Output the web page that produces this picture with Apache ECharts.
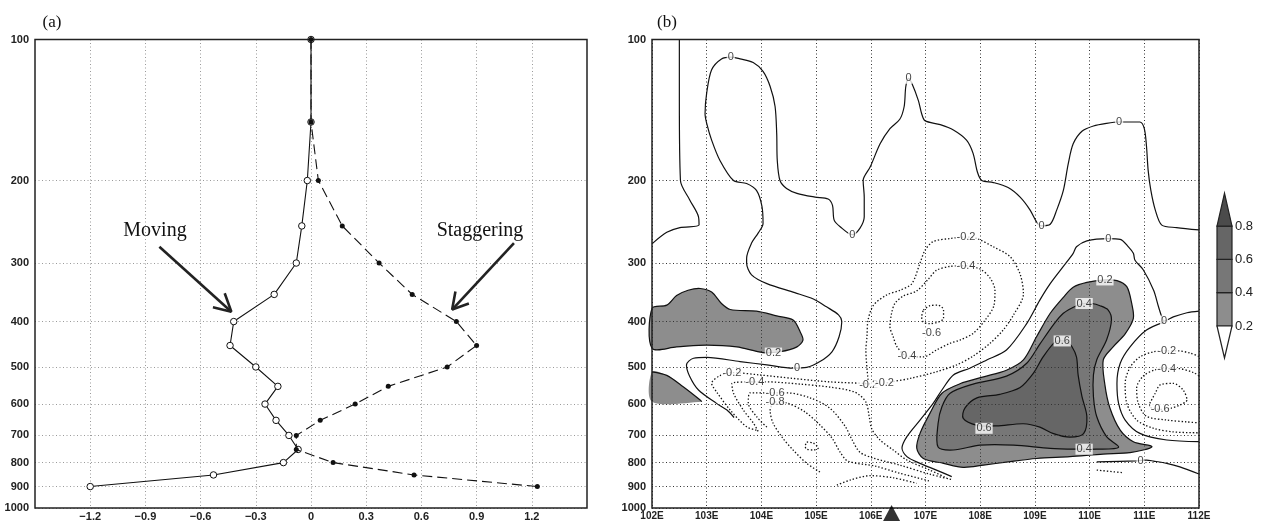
<!DOCTYPE html>
<html><head><meta charset="utf-8">
<script src="https://cdn.jsdelivr.net/npm/echarts@6/dist/echarts.min.js"></script>
<style>html,body{margin:0;padding:0;background:#fff}#c{width:1262px;height:521px}</style>
</head><body><div id="c"></div>
<script>
// ---------------- DATA : panel (a) ----------------
const pressureLevels = [100,150,200,250,300,350,400,450,500,550,600,650,700,750,800,850,900];
const movingVals     = [0,0,-0.02,-0.05,-0.08,-0.20,-0.42,-0.44,-0.30,-0.18,-0.25,-0.19,-0.12,-0.07,-0.15,-0.53,-1.20];
const staggeringVals = [0,0,0.04,0.17,0.37,0.55,0.79,0.90,0.74,0.42,0.24,0.05,-0.08,-0.08,0.12,0.56,1.23];
const xTicksA = [-1.2,-0.9,-0.6,-0.3,0,0.3,0.6,0.9,1.2];
const pressureTicks = [100,200,300,400,500,600,700,800,900,1000];
const lonTicks = [102,103,104,105,106,107,108,109,110,111,112];
// annotation arrows (value, hPa)
const movingArrowShaft = [[-0.824,277],[-0.433,381]];
const movingArrowHead  = [[-0.533,373],[-0.433,381],[-0.469,348]];
const staggerArrowShaft = [[1.103,272],[0.767,377]];
const staggerArrowHead  = [[0.858,366],[0.767,377],[0.785,345]];

// ---------------- DATA : panel (b) contours [lon, hPa] ----------------
const zeroA = [[102.50,100],[102.50,135],[102.52,200],[102.69,220],[102.85,239],[102.86,249],[102.51,252],[102.27,258],[102.0,273]];
const zeroB = [[103.50,641],[103.37,618],[103.18,598],[102.85,560],[102.69,524],[102.63,495],[102.76,479],[103.00,477],[103.61,487],[104.10,495],[104.58,503],[104.83,501],[105.07,487],[105.29,464],[105.42,431],[105.47,400],[105.41,387],[105.19,372],[104.95,358],[104.61,347],[104.10,332],[103.82,318],[103.73,300],[103.73,293],[103.82,272],[103.94,259],[104.03,247],[104.01,227],[103.91,210],[103.73,203],[103.49,200],[103.24,181],[103.09,164],[103.00,151],[102.97,144],[103.00,130],[103.09,116],[103.27,110],[103.44,109],[103.61,110],[103.85,112],[104.03,117],[104.16,126],[104.25,139],[104.28,159],[104.29,181],[104.34,200],[104.46,208],[104.65,213],[104.98,217],[105.22,219],[105.30,226],[105.33,243],[105.44,251],[105.66,261],[105.80,253],[105.88,239],[105.88,217],[105.86,200],[105.99,187],[106.17,167],[106.35,155],[106.53,148],[106.61,139],[106.64,126],[106.69,121],[106.75,124],[106.87,135],[106.93,144],[106.99,149],[107.27,152],[107.51,156],[107.75,164],[107.87,175],[107.95,192],[108.03,200],[108.24,202],[108.51,207],[108.73,217],[108.91,231],[109.03,245],[109.12,250],[109.28,248],[109.40,231],[109.52,210],[109.61,184],[109.70,167],[109.86,157],[110.07,153],[110.31,151],[110.54,150],[110.92,150],[111.00,155],[111.04,169],[111.07,190],[111.12,210],[111.20,231],[111.32,249],[111.59,252],[112.0,255]];
const zeroD1 = [[107.48,857],[107.20,830],[106.90,803],[106.66,777],[106.57,745],[106.66,704],[106.90,649],[107.14,598],[107.30,560],[107.51,520],[107.81,503],[108.12,483],[108.48,460],[108.85,404],[109.09,360],[109.28,332],[109.52,305],[109.70,286],[109.76,277],[109.95,269],[110.34,266],[110.56,267],[110.71,277],[110.80,286],[110.83,296],[110.98,310],[111.17,343],[111.26,372],[111.32,391],[111.36,399],[111.53,391],[111.78,383],[112.0,380]];
const zeroD2 = [[111.36,401],[111.04,417],[110.74,453],[110.56,491],[110.50,542],[110.53,598],[110.65,649],[110.92,693],[111.41,716],[112.0,722]];
const zeroE = [[110.13,797],[110.86,793],[111.04,790],[111.17,794],[111.41,803],[111.65,817],[112.0,846]];
const fill02West = [[102.0,375],[102.27,369],[102.45,352],[102.66,343],[102.88,340],[103.09,346],[103.27,366],[103.43,377],[103.91,380],[104.28,389],[104.58,397],[104.71,421],[104.76,438],[104.65,453],[104.34,464],[104.03,466],[103.55,453],[103.00,449],[102.45,453],[102.0,456]];
const edge02West2 = [[102.0,512],[102.27,521],[102.57,551],[102.88,588],[102.91,593]];
const fill02East = [[110.28,326],[109.95,330],[109.70,338],[109.52,355],[109.28,384],[109.03,431],[108.79,483],[108.48,508],[108.06,525],[107.63,543],[107.30,569],[107.08,628],[106.90,693],[106.84,745],[106.96,784],[107.33,803],[107.69,819],[108.06,810],[108.51,797],[109.03,784],[109.64,777],[110.25,767],[110.74,762],[111.14,740],[110.80,722],[110.56,682],[110.37,611],[110.28,546],[110.25,483],[110.43,453],[110.65,425],[110.80,394],[110.77,366],[110.68,337],[110.50,327]];
const fill04East = [[109.90,366],[109.76,370],[109.52,384],[109.34,406],[109.09,447],[108.85,491],[108.48,523],[107.87,544],[107.45,569],[107.30,608],[107.23,660],[107.23,741],[107.51,752],[108.00,734],[108.61,734],[109.28,746],[109.76,749],[110.13,749],[110.53,742],[110.31,704],[110.13,638],[110.07,578],[110.07,520],[110.13,483],[110.31,438],[110.40,397],[110.34,378],[110.19,370],[110.04,366]];
const fill06East = [[109.50,440],[109.37,442],[109.15,476],[108.97,516],[108.73,553],[108.36,572],[107.94,582],[107.72,612],[107.69,644],[107.94,666],[108.30,668],[108.79,661],[109.09,672],[109.34,694],[109.64,706],[109.89,694],[109.95,638],[109.86,578],[109.79,520],[109.76,476],[109.67,451],[109.58,441]];
const neg02a = [[103.91,682],[103.73,671],[103.43,618],[103.18,565],[103.09,542],[103.24,522],[103.46,514],[103.97,520],[104.58,529],[105.25,538],[105.86,542],[106.02,544]];
const neg02b = [[105.95,533],[105.91,460],[105.93,431],[105.95,397],[106.05,369],[106.29,351],[106.53,343],[106.75,332],[106.90,300],[106.99,282],[107.14,270],[107.45,266],[107.74,264],[107.94,266],[108.24,277],[108.55,291],[108.73,317],[108.79,349],[108.61,387],[108.42,417],[108.18,445],[107.87,474],[107.57,495],[107.20,512],[106.72,529],[106.38,538],[106.26,542]];
const neg04top = [[107.74,304],[108.00,309],[108.18,323],[108.27,343],[108.25,370],[108.09,397],[107.87,424],[107.63,438],[107.45,445],[107.20,460],[106.96,476],[106.66,474],[106.48,453],[106.41,431],[106.35,410],[106.38,384],[106.44,366],[106.59,353],[106.84,344],[107.05,325],[107.20,311],[107.45,305],[107.74,304]];
const neg06top = [[106.96,378],[107.08,370],[107.23,369],[107.33,378],[107.33,394],[107.23,401],[107.08,404],[106.96,401],[106.93,391],[106.96,378]];
const neg04fan = [[103.94,686],[103.85,658],[103.67,618],[103.49,569],[103.46,542],[103.88,538],[104.10,538],[104.71,544],[105.25,552],[105.71,566],[105.91,594],[105.97,637],[106.02,679],[106.17,716],[106.41,752],[106.66,790],[107.08,830],[107.39,863]];
const neg06fan = [[104.10,672],[103.92,640],[103.76,596],[103.79,568],[104.25,568],[104.47,568],[104.89,582],[105.25,612],[105.53,669],[105.66,716],[105.80,760],[106.04,782],[106.53,810],[107.08,847],[107.50,871]];
const neg08fan = [[105.07,838],[104.83,803],[104.58,752],[104.39,709],[104.21,658],[104.16,618],[104.25,594],[104.47,597],[104.80,624],[105.07,665],[105.29,709],[105.44,760],[105.58,794],[106.08,814],[106.53,843],[107.08,876]];
const neg10loop = [[104.83,723],[104.95,727],[105.04,745],[104.95,752],[104.83,749],[104.80,738],[104.83,723]];
const negBottom = [[105.38,894],[105.62,872],[105.99,853],[106.41,862],[106.84,886]];
const neg02east = [[112.0,475],[111.84,467],[111.62,462],[111.41,462],[111.17,464],[110.92,476],[110.74,501],[110.65,542],[110.68,598],[110.86,649],[111.17,676],[111.53,688],[112.0,691]];
const neg04east = [[112.0,523],[111.90,514],[111.62,504],[111.41,504],[111.20,507],[110.98,523],[110.86,555],[110.89,598],[111.04,637],[111.41,649],[111.78,655],[112.0,658]];
const neg06east = [[111.10,598],[111.20,569],[111.29,546],[111.53,542],[111.71,560],[111.78,588],[111.65,603],[111.47,613],[111.29,616],[111.10,608],[111.10,598]];
const neg02bit = [[110.13,830],[110.62,841]];
const contourLabels = [
  [103.44,109,'0'],[105.66,261,'0'],[106.69,121,'0'],[109.12,250,'0'],[110.54,150,'0'],
  [110.34,266,'0'],[111.36,399,'0'],[104.65,503,'0'],[110.93,793,'0'],
  [104.22,467,'0.2'],[110.28,326,'0.2'],[109.90,366,'0.4'],[109.90,749,'0.4'],
  [109.50,440,'0.6'],[108.07,676,'0.6'],
  [107.74,264,'-0.2'],[103.46,514,'-0.2'],[105.96,547,'-0.2'],[106.25,540,'-0.2'],[111.41,462,'-0.2'],
  [107.74,304,'-0.4'],[106.66,474,'-0.4'],[103.88,538,'-0.4'],[111.41,504,'-0.4'],
  [107.11,423,'-0.6'],[104.25,567,'-0.6'],[111.29,616,'-0.6'],
  [104.25,594,'-0.8']
];
const stationLon = 106.38;
const shadeLevels = [0.2,0.4,0.6,0.8];
const shadeColors = ['#8d8d8d','#777777','#666666','#4b4b4b'];

// ---------------- BUILD ----------------
const FONT = '"Liberation Sans", Arial, sans-serif';
const chart = echarts.init(document.getElementById('c'), null, {renderer:'canvas'});

const fillPolys = [
  {pts: fill02West, color: shadeColors[0], stroke: true},
  {pts: edge02West2.concat([[102.0,593]]), color: shadeColors[0], stroke: false},
  {pts: fill02East, color: shadeColors[0], stroke: true},
  {pts: fill04East, color: shadeColors[1], stroke: true},
  {pts: fill06East, color: shadeColors[2], stroke: true}
];
const solidLines = [zeroA, zeroB, zeroD1, zeroD2, zeroE, edge02West2];
const dottedLines = [neg02a, neg02b, neg04top, neg06top, neg04fan, neg06fan, neg08fan, neg10loop, negBottom, neg02east, neg04east, neg06east, neg02bit];

function fmtA(v){ if (Math.abs(v) < 1e-9) return '0'; return (v<0?'\u2212':'') + Math.abs(v).toFixed(1); }

const series = [];
// panel a
series.push({type:'line', xAxisIndex:0, yAxisIndex:0, z:3, silent:true, animation:false,
  data: pressureLevels.map((p,i)=>[movingVals[i], p]),
  symbol:'circle', symbolSize:6.5, showSymbol:true,
  lineStyle:{color:'#111', width:1.1},
  itemStyle:{color:'#fff', borderColor:'#111', borderWidth:1}});
series.push({type:'line', xAxisIndex:0, yAxisIndex:0, z:4, silent:true, animation:false,
  data: pressureLevels.map((p,i)=>[staggeringVals[i], p]),
  symbol:'circle', symbolSize:5, showSymbol:true,
  lineStyle:{color:'#111', width:1.1, type:[10,5]},
  itemStyle:{color:'#111', borderColor:'#111', borderWidth:0}});
[movingArrowShaft, movingArrowHead, staggerArrowShaft, staggerArrowHead].forEach(a=>{
  series.push({type:'line', xAxisIndex:0, yAxisIndex:0, z:5, silent:true, animation:false,
    data:a, symbol:'none', lineStyle:{color:'#222', width:2.6}});
});
// panel b fills
series.push({type:'custom', xAxisIndex:1, yAxisIndex:1, z:1, silent:true, animation:false,
  coordinateSystem:'cartesian2d',
  data: fillPolys.map((f,i)=>[f.pts[0][0], f.pts[0][1], i]),
  renderItem:(params, api)=>{
    const f = fillPolys[params.dataIndex];
    return {type:'polygon', shape:{points: f.pts.map(d=>api.coord(d)), smooth:0.3},
      style:{fill:f.color, stroke: f.stroke ? '#111' : null, lineWidth: 1.2}};
  }});
solidLines.forEach(l=>{
  series.push({type:'line', xAxisIndex:1, yAxisIndex:1, z:3, silent:true, animation:false,
    data:l, symbol:'none', smooth:0.3, lineStyle:{color:'#111', width:1.2}});
});
dottedLines.forEach(l=>{
  series.push({type:'line', xAxisIndex:1, yAxisIndex:1, z:3, silent:true, animation:false,
    data:l, symbol:'none', smooth:0.3, lineStyle:{color:'#111', width:1.3, type:[1.4,2]}});
});
series.push({type:'scatter', xAxisIndex:1, yAxisIndex:1, z:6, silent:true, animation:false,
  symbol:'rect', symbolSize:1, itemStyle:{color:'rgba(0,0,0,0)'},
  data: contourLabels.map(l=>({value:[l[0], l[1]], name:l[2]})),
  label:{show:true, position:'inside', formatter:'{b}', fontSize:11, fontFamily:FONT, color:'#111',
    backgroundColor:'#fff', padding:[0,1,0,1]}});
series.push({type:'scatter', xAxisIndex:1, yAxisIndex:1, z:7, silent:true, animation:false, clip:false,
  symbol:'triangle', symbolSize:[17,16], symbolOffset:[0,5], itemStyle:{color:'#000'},
  data:[[stationLon, 1000]]});

// colour bar
const cbX = 1217, cbW = 15, cbBottom = 326, cbSeg = 33.3;
const graphics = [];
for (let i=0;i<3;i++){
  graphics.push({type:'rect', shape:{x:cbX, y:cbBottom-(i+1)*cbSeg, width:cbW, height:cbSeg},
    style:{fill:shadeColors[i], stroke:'#222', lineWidth:1.2}, silent:true});
}
const topY = cbBottom-3*cbSeg;
graphics.push({type:'polygon', shape:{points:[[cbX,topY],[cbX+cbW/2,topY-33],[cbX+cbW,topY]]},
  style:{fill:shadeColors[3], stroke:'#222', lineWidth:1.2}, silent:true});
graphics.push({type:'polygon', shape:{points:[[cbX,cbBottom],[cbX+cbW/2,cbBottom+32],[cbX+cbW,cbBottom]]},
  style:{fill:'#fff', stroke:'#222', lineWidth:1.2}, silent:true});
shadeLevels.forEach((lv,i)=>{
  graphics.push({type:'text', x:cbX+cbW+3, y:cbBottom-i*cbSeg, silent:true,
    style:{text:lv.toFixed(1), font:'13px '+FONT, fill:'#222', textAlign:'left', textVerticalAlign:'middle', align:'left', verticalAlign:'middle'}});
});
const serif = '"Liberation Serif", "Times New Roman", serif';
[['(a)',52,23,17],['(b)',667,23,17],['Moving',155,231,20],['Staggering',480,231,20]].forEach(t=>{
  graphics.push({type:'text', x:t[1], y:t[2], silent:true,
    style:{text:t[0], font:t[3]+'px '+serif, fill:'#111', textAlign:'center', textVerticalAlign:'middle', align:'center', verticalAlign:'middle'}});
});

const yAxisCommon = (gi, gridColor)=>({
  type:'log', logBase:10, gridIndex:gi, min:100, max:1000, inverse:true, z:2,
  axisLine:{show:false}, axisTick:{show:false, customValues:pressureTicks},
  axisLabel:{customValues:pressureTicks, formatter:v=>String(Math.round(v)), fontSize:11, fontWeight:'bold', fontFamily:FONT, color:'#222', margin:6},
  splitLine:{show:true, lineStyle:{color:gridColor, type:[1,2.5], width:1}},
  minorTick:{show:false}, minorSplitLine:{show:false}
});

const option = {
  animation:false,
  backgroundColor:'#fff',
  grid:[
    {left:35, right:675, top:39.5, bottom:13, show:true, borderColor:'#222', borderWidth:1.5, backgroundColor:'transparent', z:4, containLabel:false, outerBoundsMode:'none'},
    {left:652, right:63, top:39.5, bottom:13, show:true, borderColor:'#222', borderWidth:1.5, backgroundColor:'transparent', z:4, containLabel:false, outerBoundsMode:'none'}
  ],
  xAxis:[
    {type:'value', gridIndex:0, min:-1.5, max:1.5, z:2,
     axisLine:{show:false}, axisTick:{show:false, customValues:xTicksA},
     axisLabel:{customValues:xTicksA, formatter:fmtA, fontSize:11, fontWeight:'bold', fontFamily:FONT, color:'#222', margin:3},
     splitLine:{show:true, lineStyle:{color:'#9a9a9a', type:[1,2.5], width:1}}},
    {type:'value', gridIndex:1, min:102, max:112, z:2,
     axisLine:{show:false}, axisTick:{show:false, customValues:lonTicks},
     axisLabel:{customValues:lonTicks, formatter:v=>Math.round(v)+'E', fontSize:10, fontWeight:'bold', fontFamily:FONT, color:'#222', margin:3},
     splitLine:{show:true, lineStyle:{color:'#333', type:[1,2.5], width:1}}}
  ],
  yAxis:[ yAxisCommon(0,'#9a9a9a'), yAxisCommon(1,'#333') ],
  series: series,
  graphic: graphics
};
chart.setOption(option);
</script></body></html>
